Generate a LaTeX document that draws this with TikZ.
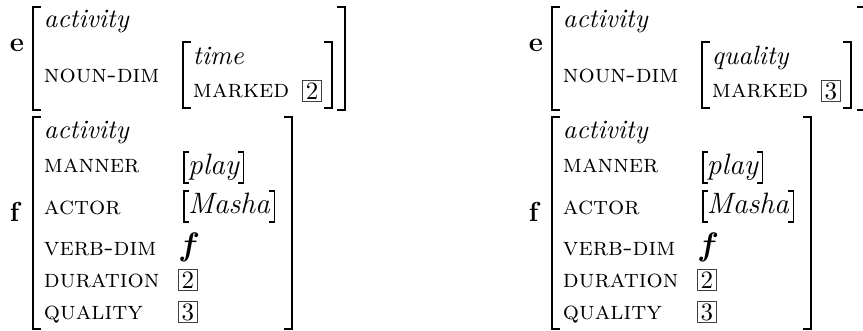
\documentclass[tikz,border=0pt]{standalone}
\usetikzlibrary{calc}
\tikzset{
  txt/.style={anchor=base west, inner sep=0pt, outer sep=0pt},
  attr/.style={txt, font=\fontsize{10.2}{12}\selectfont\scshape},
  typ/.style={txt, font=\fontsize{10.6}{12}\selectfont\itshape},
  val/.style={txt, font=\fontsize{11.8}{14}\selectfont\itshape},
  fval/.style={txt, font=\fontsize{13}{15}\selectfont\bfseries\itshape},
  lab/.style={txt, font=\fontsize{11}{13}\selectfont\bfseries},
  tagbox/.style={draw=black!75, line width=0.45pt, minimum width=7.4pt,
    minimum height=8.4pt, inner sep=0pt, font=\fontsize{10}{12}\selectfont},
  brv/.style={line width=1.1pt},
  brt/.style={line width=0.5pt},
  smb/.style={line width=0.55pt},
}
% big bracket: x, top, bottom, tick length (negative = right bracket)
\newcommand\bigbr[4]{%
  \draw[brv] (#1,#2-0.6) -- (#1,#3+0.6);
  \draw[brt] (#1,#2) -- ++(#4,0) (#1,#3) -- ++(#4,0);}
% small brackets around a text node
\newcommand\smbr[1]{%
  \draw[smb] ($(#1.base west)+(1,-23)$) -- ++(-5,0) -- ++(0,31) -- ++(5,0);
  \draw[smb] ($(#1.base east)+(-0.5,-23)$) -- ++(5,0) -- ++(0,31) -- ++(-5,0);}
% one panel: #1 prefix, #2 shift, #3 word, #4 tag, #5 outer bracket x
\newcommand\avmpanel[5]{%
\begin{scope}[shift={(#2,0)}]
  \node[lab] (#1e) at (10,52) {e};
  \bigbr{33}{7}{110}{8}
  \node[typ] (#1ea) at (44,28) {activity};
  \node[attr] (#1en) at (44,83) {noun-dim};
  \bigbr{183}{42}{108}{8}
  \node[typ] (#1ew) at (193,65) {#3};
  \node[attr] (#1em) at (193,98) {marked};
  \node[tagbox] (#1et) at (312,91) {#4};
  \bigbr{332}{42}{108}{-8}
  \bigbr{#5}{7}{110}{-8}
  \node[lab] (#1f) at (10,222) {f};
  \bigbr{33}{117}{329}{8}
  \node[typ] (#1fa) at (44,139) {activity};
  \node[attr] (#1fm) at (44,173) {manner};
  \node[attr] (#1fc) at (44,215) {actor};
  \node[attr] (#1fv) at (44,256) {verb-dim};
  \node[attr] (#1fd) at (44,288) {duration};
  \node[attr] (#1fq) at (44,320) {quality};
  \node[val] (#1pl) at (188,175) {play};
  \smbr{#1pl}
  \node[val] (#1ma) at (188,214) {Masha};
  \smbr{#1ma}
  \node[fval] (#1fx) at (181,256) {f};
  \node[tagbox] (#1t2) at (188,280) {2};
  \node[tagbox] (#1t3) at (188,312) {3};
  \bigbr{292}{117}{329}{-8}
\end{scope}}
\begin{document}
\begin{tikzpicture}[x=0.4pt,y=-0.4pt]
  \useasboundingbox (0,0) rectangle (863,331);
  \clip (0,0) rectangle (863,331);
  \avmpanel{L}{0}{time}{2}{345}
  \avmpanel{R}{519}{quality}{3}{346}
\end{tikzpicture}
\end{document}
